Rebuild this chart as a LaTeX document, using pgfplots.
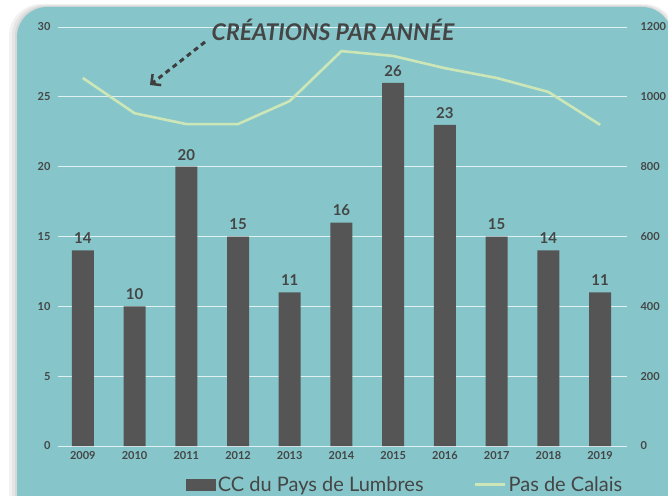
\documentclass[border=0pt]{standalone}
\usepackage{fontspec}
\setmainfont{Lato}
\usepackage{pgfplots}
\pgfplotsset{compat=1.18}
\usetikzlibrary{arrows.meta}
\definecolor{bg}{HTML}{86C6CA}
\definecolor{barc}{HTML}{555555}
\definecolor{lnc}{HTML}{CDE6B8}
\definecolor{txt}{HTML}{454545}
\begin{document}
\begin{tikzpicture}[x=1pt,y=1pt]
\useasboundingbox (0,0) rectangle (668,495);
\fill[white] (0,0) rectangle (668,495);
\fill[black, opacity=0.05, rounded corners=32pt] (9,-40) rectangle (676,491);
\fill[black, opacity=0.05, rounded corners=31pt] (12,-40) rectangle (674,490);
\fill[black, opacity=0.06, rounded corners=30pt] (15,-40) rectangle (672,489);
\fill[bg, rounded corners=30pt] (17,-40) rectangle (672,488);
\begin{axis}[
  at={(58pt,49pt)}, anchor=south west, scale only axis,
  width=569pt, height=419pt,
  xmin=-0.48, xmax=10.52, ymin=0, ymax=30,
  xtick={0,...,10},
  xticklabels={2009,2010,2011,2012,2013,2014,2015,2016,2017,2018,2019},
  ytick={0,5,...,30},
  axis line style={draw=none}, tick style={draw=none},
  ymajorgrids, grid style={white!75!bg, line width=0.9pt},
  /pgf/number format/assume math mode=true,
  ticklabel style={font=\bfseries\fontsize{11}{11}\selectfont, text=txt},
  yticklabel style={xshift=-4pt},
  xticklabel style={yshift=-2pt},
  legend style={at={(0.61,-0.093)}, anchor=center, draw=none, fill=none,
    font=\fontsize{20}{20}\selectfont, text=txt, legend columns=2,
    /tikz/every even column/.append style={column sep=48pt}},
  legend cell align=left,
]
\addplot[ybar, bar width=22pt, fill=barc, draw=none,
  nodes near coords,
  nodes near coords style={font=\bfseries\fontsize{15}{15}\selectfont, text=txt, yshift=3pt},
  legend image code/.code={\fill[barc] (0pt,-6pt) rectangle (30pt,6pt);}]
 coordinates {(0,14)(1,10)(2,20)(3,15)(4,11)(5,16)(6,26)(7,23)(8,15)(9,14)(10,11)};
\addlegendentry{CC du Pays de Lumbres}
\addlegendimage{lnc, line width=3pt, legend image code/.code={\draw[lnc, line width=3pt] (0pt,0pt)--(30pt,0pt);}}
\addlegendentry{Pas de Calais}
\end{axis}
\begin{axis}[
  at={(58pt,49pt)}, anchor=south west, scale only axis,
  width=569pt, height=419pt,
  xmin=-0.48, xmax=10.52, ymin=0, ymax=1200,
  ytick={0,200,...,1200},
  axis y line*=right, axis x line=none,
  axis line style={draw=none}, tick style={draw=none},
  /pgf/number format/assume math mode=true,
  /pgf/number format/1000 sep={},
  yticklabel style={font=\bfseries\fontsize{11}{11}\selectfont, text=txt, xshift=10pt},
]
\addplot[lnc, line width=2.6pt] coordinates {(0,1054)(1,953)(2,922)(3,922)(4,988)(5,1131)(6,1117)(7,1082)(8,1054)(9,1014)(10,920)};
\end{axis}
\node[font=\bfseries\itshape\fontsize{23}{23}\selectfont, text=txt] at (333,465) {CRÉATIONS PAR ANNÉE};
\draw[txt!90!black, line width=3pt, dash pattern=on 5pt off 4pt, -{Straight Barb[length=7pt, width=14pt, line width=2.5pt]}] (205,453) -- (150,410);
\end{tikzpicture}
\end{document}
